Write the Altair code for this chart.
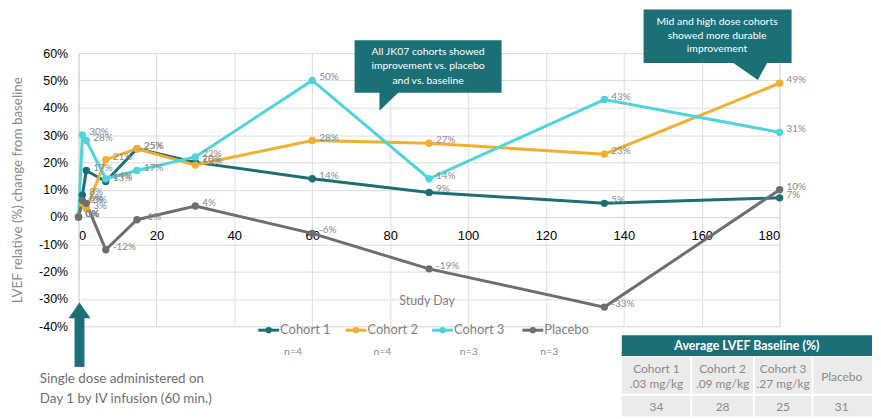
import altair as alt
import pandas as pd

# ---------------- data ----------------
days = [0, 1, 2, 7, 15, 30, 60, 90, 135, 180]
series_names = ["Cohort 1", "Cohort 2", "Cohort 3", "Placebo"]
cohort1 = [0, 8, 17, 13, 25, 20, 14, 9, 5, 7]
cohort2 = [0, 5, 3, 21, 25, 19, 28, 27, 23, 49]
cohort3 = [0, 30, 28, 14, 17, 22, 50, 14, 43, 31]
placebo = [0, 6, 5, -12, -1, 4, -6, -19, -33, 10]
n_labels = ["n=4", "n=4", "n=3", "n=3"]
colors = ["#1d6f75", "#f2ae2e", "#4fd3dc", "#6e6e6e"]
x_ticks = [0, 20, 40, 60, 80, 100, 120, 140, 160, 180]
y_ticks = [-40, -30, -20, -10, 0, 10, 20, 30, 40, 50, 60]
y_title = "LVEF relative (%) change from baseline"
x_title = "Study Day"
callout1 = ["All JK07 cohorts showed", "improvement vs. placebo", "and vs. baseline"]
callout2 = ["Mid and high dose cohorts", "showed more durable", "improvement"]
dose_note = ["Single dose administered on", "Day 1 by IV infusion (60 min.)"]
table_header = "Average LVEF Baseline (%)"
table_groups = ["Cohort 1", "Cohort 2", "Cohort 3", "Placebo"]
table_doses = [".03 mg/kg", ".09 mg/kg", ".27 mg/kg", ""]
table_baseline = [34, 28, 25, 31]

# ---------------- style ----------------
FONT = "Lato"
TEAL = "#1b6f76"
GREY_TXT = "#8a8a8a"
W, H = 706, 275

rows = []
for name, vals in zip(series_names, [cohort1, cohort2, cohort3, placebo]):
    for d, v in zip(days, vals):
        rows.append({"series": name, "day": d, "value": v, "label": f"{v}%"})
df = pd.DataFrame(rows)

xenc = alt.X("day:Q", scale=alt.Scale(domain=[0, 180], nice=False, zero=False),
             axis=alt.Axis(values=x_ticks, offset=-110, title=None, ticks=False,
                           labelPadding=13, domainColor="#d9d9d9", labelOverlap=False,
                           labelFontSize=13))
yenc = alt.Y("value:Q", scale=alt.Scale(domain=[-40, 60], nice=False),
             axis=alt.Axis(values=y_ticks, labelExpr="datum.value + '%'", title=None,
                           ticks=False, labelPadding=11, domainColor="#d9d9d9",
                           labelOverlap=False, labelFontSize=12.5))
cenc = alt.Color("series:N", scale=alt.Scale(domain=series_names, range=colors), legend=None)

base = alt.Chart(df).encode(x=xenc, y=yenc)
lines = base.mark_line(strokeWidth=3).encode(color=cenc, detail="series:N")
points = base.mark_circle(size=55, opacity=1).encode(color=cenc)
labels = base.mark_text(align="left", baseline="middle", dx=7, dy=-3, fontSize=10,
                        font=FONT, color=GREY_TXT).encode(text="label:N")


def anno():
    return alt.Chart(alt.Data(values=[{}]))


def rect(x1, x2, y1, y2, color):
    return anno().mark_rect(color=color, opacity=1).encode(
        x=alt.value(x1), x2=alt.value(x2), y=alt.value(y1), y2=alt.value(y2))


def text(t, x, y, size=12, color=GREY_TXT, align="center", weight="normal", angle=0):
    return anno().mark_text(text=t, align=align, baseline="middle", fontSize=size,
                            font=FONT, color=color, fontWeight=weight, angle=angle).encode(
        x=alt.value(x), y=alt.value(y))


def shape(path, x, y, size, color):
    return anno().mark_point(shape=path, size=size, filled=True, opacity=1,
                             color=color, strokeWidth=0).encode(x=alt.value(x), y=alt.value(y))


layers = [lines, points, labels]

# axis titles
layers.append(text(y_title, -61, 138, size=13.5, angle=270))
layers.append(text(x_title, 351, 250, size=12.5, color="#7f7f7f"))

# callout 1
layers.append(rect(278, 426, -13, 40, TEAL))
layers.append(shape("M-1,-0.952L1,-0.952L-1,0.952Z", 313.5, 48, 441, TEAL))
for i, t in enumerate(callout1):
    layers.append(text(t, 352, -1 + i * 14.5, size=10.5, color="white"))

# callout 2
layers.append(rect(569, 718, -44, 10, TEAL))
layers.append(shape("M-1,-0.5L1,-0.5L0.444,0.5Z", 676, 18, 1296, TEAL))
for i, t in enumerate(callout2):
    layers.append(text(t, 643, -31 + i * 13.5, size=10.5, color="white"))

# dose arrow + note
layers.append(rect(-4, 6, 265, 316, TEAL))
layers.append(shape("M0,-0.727L1,0.727L-1,0.727Z", 1, 259, 484, TEAL))
for i, t in enumerate(dose_note):
    layers.append(text(t, -39, 328 + i * 20, size=13.5, color="#6f6f6f", align="left"))

# custom legend
leg_x = [181, 269, 356, 447]
n_x = [216, 306, 393, 474]
for name, col, lx, nl, nx in zip(series_names, colors, leg_x, n_labels, n_x):
    layers.append(anno().mark_rule(color=col, strokeWidth=3).encode(
        x=alt.value(lx), x2=alt.value(lx + 21), y=alt.value(279)))
    layers.append(anno().mark_circle(color=col, size=40, opacity=1).encode(
        x=alt.value(lx + 10.5), y=alt.value(279)))
    layers.append(text(name, lx + 22, 279, size=13, color="#7f7f7f", align="left"))
    layers.append(text(nl, nx, 301, size=10.5, color="#8a8a8a"))

# table
layers.append(rect(547, 799, 284, 305, TEAL))
layers.append(text(table_header, 673, 295, size=12.5, color="white", weight="bold"))
layers.append(rect(547, 799, 306, 366, "#ebebeb"))
for sx in [617, 680, 739]:
    layers.append(anno().mark_rule(color="white", strokeWidth=2).encode(
        x=alt.value(sx), y=alt.value(306), y2=alt.value(366)))
layers.append(anno().mark_rule(color="white", strokeWidth=2).encode(
    x=alt.value(547), x2=alt.value(799), y=alt.value(344)))
col_cx = [582, 648.5, 709.5, 768.5]
for g, dose, b, cx in zip(table_groups, table_doses, table_baseline, col_cx):
    if dose:
        layers.append(text(g, cx, 318, size=12))
        layers.append(text(dose, cx, 333, size=12))
    else:
        layers.append(text(g, cx, 326, size=12))
    layers.append(text(str(b), cx, 356, size=12))

chart = alt.layer(*layers).properties(
    width=W, height=H,
    autosize=alt.AutoSizeParams(type="none"),
    padding={"left": 71, "top": 44, "right": 94, "bottom": 91},
).configure_view(stroke=None).configure_axis(
    grid=False, labelColor=GREY_TXT, labelFontSize=12, labelFont=FONT,
).configure(background="white")

chart.save("out.html", embed_options={"renderer": "svg", "actions": False})
